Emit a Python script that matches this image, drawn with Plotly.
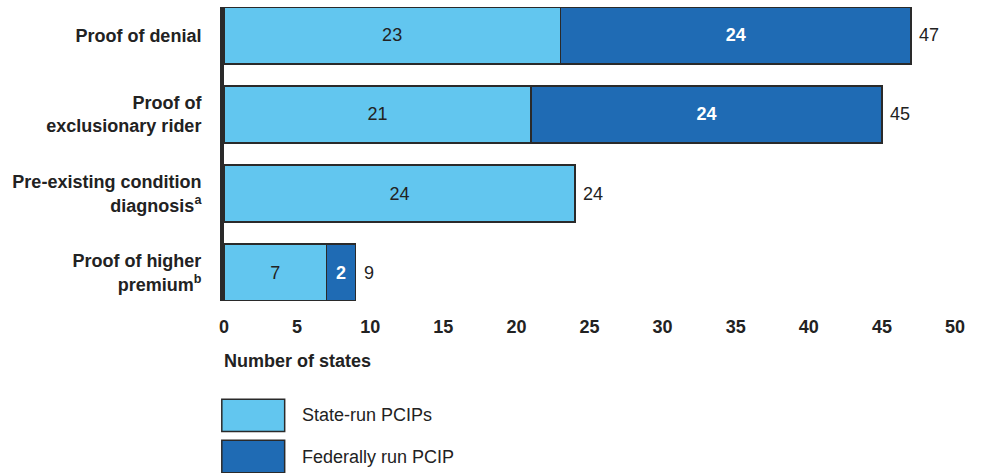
import plotly.graph_objects as go

categories = [
    "Proof of denial",
    "Proof of<br>exclusionary rider",
    "Pre-existing condition<br>diagnosis<sup>a</sup>",
    "Proof of higher<br>premium<sup>b</sup>",
]
state_run = [23, 21, 24, 7]
federal_run = [24, 24, 0, 2]
series_names = ["State-run PCIPs", "Federally run PCIP"]
x_ticks = [0, 5, 10, 15, 20, 25, 30, 35, 40, 45, 50]

LIGHT = "#62C6EF"
DARK = "#1F6BB4"
EDGE = "#2a2a2a"
TEXT = "#222222"
FONT = "Liberation Sans, Arial"

fig = go.Figure()
fig.add_trace(go.Bar(
    y=categories, x=state_run, orientation="h", name=series_names[0],
    marker=dict(color=LIGHT, line=dict(color=EDGE, width=1.5)),
    width=0.72,
    text=[str(v) if v else "" for v in state_run],
    textposition="inside", insidetextanchor="middle",
    textfont=dict(family=FONT, size=18, color=TEXT),
    showlegend=False,
))
fig.add_trace(go.Bar(
    y=categories, x=federal_run, orientation="h", name=series_names[1],
    marker=dict(color=DARK, line=dict(color=EDGE, width=1.5)),
    width=0.72,
    text=[f"<b>{v}</b>" if v else "" for v in federal_run],
    textposition="inside", insidetextanchor="middle",
    textfont=dict(family=FONT, size=18, color="white"),
    showlegend=False,
))

# totals at the end of each bar
for cat, s, f in zip(categories, state_run, federal_run):
    fig.add_annotation(
        x=s + f, y=cat, text=str(s + f), showarrow=False,
        xanchor="left", xshift=6,
        font=dict(family=FONT, size=18, color=TEXT),
    )

# axis title under the tick labels
fig.add_annotation(
    xref="paper", yref="paper", x=-0.003, y=-0.205, xanchor="left", yanchor="middle",
    text="<b>Number of states</b>", showarrow=False,
    font=dict(family=FONT, size=18, color=TEXT),
)

# legend drawn as swatches with labels
legend_rows = [(LIGHT, series_names[0], -0.389), (DARK, series_names[1], -0.529)]
for color, label, yc in legend_rows:
    fig.add_shape(
        type="rect", xref="paper", yref="paper",
        x0=-0.003, x1=0.083, y0=yc - 0.055, y1=yc + 0.055,
        fillcolor=color, line=dict(color=EDGE, width=1.5),
    )
    fig.add_annotation(
        xref="paper", yref="paper", x=0.104, y=yc, xanchor="left", yanchor="middle",
        text=label, showarrow=False,
        font=dict(family=FONT, size=18, color=TEXT),
    )

fig.update_layout(
    barmode="stack",
    width=983, height=473,
    margin=dict(l=224, r=28, t=7, b=172),
    paper_bgcolor="white", plot_bgcolor="white",
    font=dict(family=FONT, color=TEXT),
    xaxis=dict(
        range=[0, 50], tickvals=x_ticks, ticktext=[f"<b>{t}</b>" for t in x_ticks],
        showgrid=False, zeroline=False, showline=False, ticks="",
        ticklabelstandoff=13,
        tickfont=dict(family=FONT, size=18, color=TEXT),
    ),
    yaxis=dict(
        categoryorder="array", categoryarray=categories,
        range=[3.36, -0.36],
        showgrid=False, zeroline=False,
        showline=True, linecolor=EDGE, linewidth=4,
        ticks="", ticklabelstandoff=15,
        ticktext=[f"<b>{c}</b>" for c in categories], tickvals=categories,
        tickfont=dict(family=FONT, size=18, color=TEXT),
    ),
)

fig.write_html("out.html")
